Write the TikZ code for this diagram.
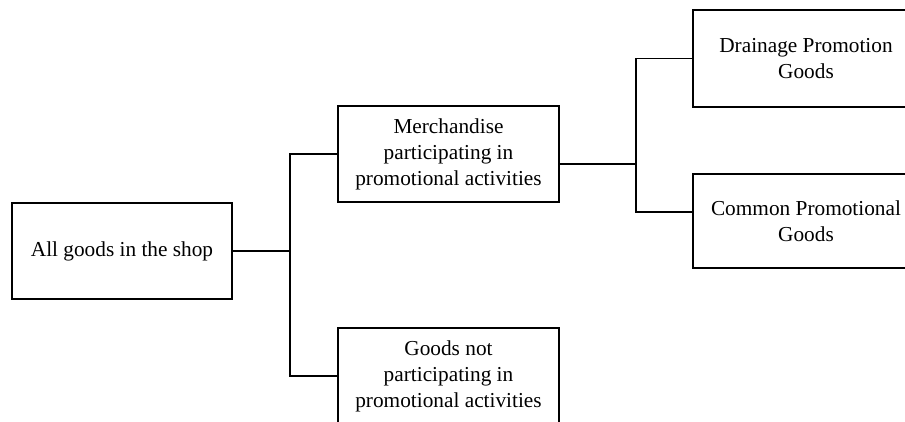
\documentclass[tikz,border=0pt]{standalone}
\usepackage{fontspec}
\setmainfont{Liberation Serif}
\begin{document}
\begin{tikzpicture}[x=1pt,y=-1pt,
  box/.style={draw=black, line width=1.6pt, fill=white, inner sep=0pt,
    align=center, font=\fontsize{21.3pt}{26pt}\selectfont},
  link/.style={draw=black, line width=1.6pt}]
  \useasboundingbox (0,0) rectangle (905,421);
  \clip (0,0) rectangle (905,421);

  % tree boxes
  \node[box, minimum width=220pt, minimum height=96pt] (all) at (122,251) {All goods in the shop};
  \node[box, minimum width=221pt, minimum height=96pt] (promo) at (448.5,154)
    {Merchandise\\participating in\\promotional activities};
  \node[box, minimum width=221pt, minimum height=96pt] (nopromo) at (448.5,376)
    {Goods not\\participating in\\promotional activities};
  \node[box, minimum width=226pt, minimum height=97pt] (drain) at (806,58.5)
    {Drainage Promotion\\Goods};
  \node[box, minimum width=226pt, minimum height=94pt] (common) at (806,221)
    {Common Promotional\\Goods};

  % junction points
  \coordinate (j1) at (290,251);
  \coordinate (j2) at (636,164);

  % connectors
  \draw[link] (all.east) -- (j1);
  \draw[link] (promo.west) -| (j1) |- (nopromo.west);
  \draw[link] ([yshift=-10pt]promo.east) -- (j2);
  \draw[link] (drain.west) -| (j2) |- ([yshift=9pt]common.west);
\end{tikzpicture}
\end{document}
